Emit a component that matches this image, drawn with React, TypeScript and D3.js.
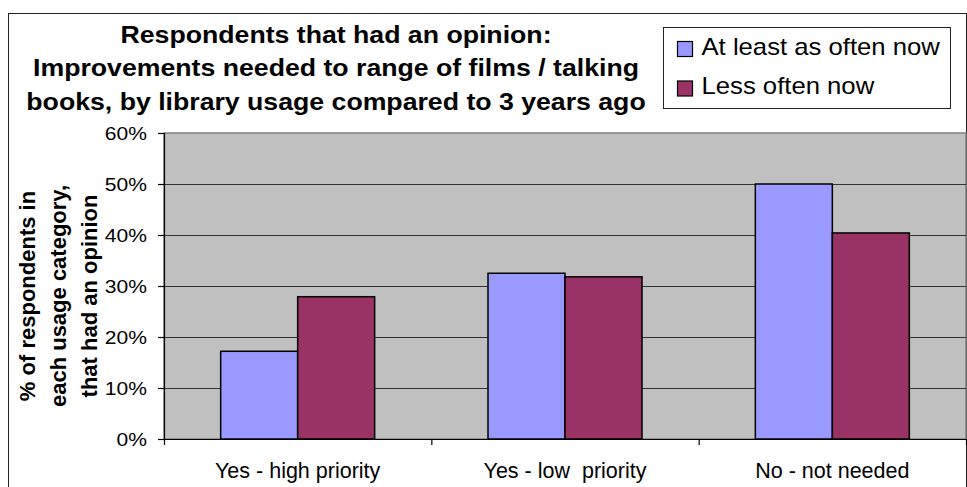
import React from "react";
import * as d3 from "d3";

const categories = ["Yes - high priority", "Yes - low  priority", "No - not needed"];
const seriesNames = ["At least as often now", "Less often now"];
const atLeastAsOften = [17.2, 32.5, 50.0];
const lessOften = [27.9, 31.8, 40.4];
const yTicks = [0, 10, 20, 30, 40, 50, 60];
const titleLines = [
  "Respondents that had an opinion:",
  "Improvements needed to range of films / talking",
  "books, by library usage compared to 3 years ago",
];
const yTitleLines = ["% of respondents in", "each usage category,", "that had an opinion"];
const colors = ["#9999FF", "#993366"];

const W = 967;
const H = 487;
const plot = { left: 164, right: 966, top: 133, bottom: 439 };
const FONT = "'Liberation Sans', Arial, sans-serif";

export default function App() {
  const x = d3.scaleBand<string>().domain(categories).range([plot.left, plot.right]).padding(0);
  const xs = d3
    .scaleBand<string>()
    .domain(seriesNames)
    .range([0, x.step()])
    .paddingInner(0)
    .paddingOuter(0.736);
  const y = d3.scaleLinear().domain([0, 60]).range([plot.bottom, plot.top]);
  const series = [atLeastAsOften, lessOften];

  return (
    <svg
      width={W}
      height={H}
      style={{ position: "absolute", left: 0, top: 0, background: "#fff" }}
      fontFamily={FONT}
    >
      {/* outer chart border */}
      <rect x={8.5} y={13.5} width={958} height={500} fill="#fff" stroke="#222" strokeWidth={1} />

      {/* title */}
      {titleLines.map((t, i) => (
        <text
          key={i}
          transform={`translate(336,${42.5 + i * 33.8}) scale(1.16,1)`}
          textAnchor="middle"
          fontWeight="bold"
          fontSize={23}
          fill="#000"
        >
          {t}
        </text>
      ))}

      {/* legend */}
      <rect x={663.5} y={27.5} width={287} height={81} fill="#fff" stroke="#222" strokeWidth={1} />
      {seriesNames.map((s, i) => (
        <g key={s}>
          <rect
            x={677.5}
            y={41.5 + i * 39.5}
            width={15}
            height={15}
            fill={colors[i]}
            stroke="#000"
            strokeWidth={1.2}
          />
          <text
            transform={`translate(701.5,${54.5 + i * 39.5}) scale(1.07,1)`}
            fontSize={24}
            fill="#000"
          >
            {s}
          </text>
        </g>
      ))}

      {/* plot area */}
      <rect
        x={plot.left}
        y={plot.top}
        width={plot.right - plot.left}
        height={plot.bottom - plot.top}
        fill="#C0C0C0"
        stroke="#808080"
        strokeWidth={1.5}
      />
      {yTicks.slice(1, -1).map((t) => (
        <line
          key={t}
          x1={plot.left}
          x2={plot.right}
          y1={Math.round(y(t)) + 0.5}
          y2={Math.round(y(t)) + 0.5}
          stroke="#333"
          strokeWidth={1.2}
        />
      ))}

      {/* bars */}
      {categories.map((c, ci) => (
        <g key={c} transform={`translate(${x(c)},0)`}>
          {seriesNames.map((s, si) => (
            <rect
              key={s}
              x={xs(s)}
              y={y(series[si][ci])}
              width={xs.bandwidth()}
              height={y(0) - y(series[si][ci])}
              fill={colors[si]}
              stroke="#000"
              strokeWidth={1.5}
            />
          ))}
        </g>
      ))}

      {/* y axis */}
      <line x1={plot.left + 0.5} x2={plot.left + 0.5} y1={plot.top} y2={plot.bottom} stroke="#000" strokeWidth={1.2} />
      {yTicks.map((t) => (
        <g key={t}>
          <line x1={158} x2={plot.left} y1={Math.round(y(t)) + 0.5} y2={Math.round(y(t)) + 0.5} stroke="#000" strokeWidth={1.2} />
          <text
            transform={`translate(147,${y(t) + 6.5}) scale(1.17,1)`}
            textAnchor="end"
            fontSize={18}
            fill="#000"
          >
            {t + "%"}
          </text>
        </g>
      ))}

      {/* x axis */}
      <line x1={plot.left} x2={plot.right} y1={plot.bottom + 0.5} y2={plot.bottom + 0.5} stroke="#000" strokeWidth={1.2} />
      {[...categories.map((c) => x(c) as number), plot.right].map((v, i) => (
        <line key={i} x1={v + 0.5} x2={v + 0.5} y1={plot.bottom} y2={plot.bottom + 6} stroke="#000" strokeWidth={1.2} />
      ))}
      {categories.map((c) => (
        <text
          key={c}
          x={(x(c) as number) + x.bandwidth() / 2}
          y={478}
          textAnchor="middle"
          fontSize={21.5}
          fill="#000"
          style={{ whiteSpace: "pre" }}
        >
          {c}
        </text>
      ))}

      {/* y axis title */}
      {yTitleLines.map((t, i) => (
        <text
          key={i}
          transform={`translate(${35 + i * 31},296) rotate(-90)`}
          textAnchor="middle"
          fontWeight="bold"
          fontSize={22}
          fill="#000"
        >
          {t}
        </text>
      ))}
    </svg>
  );
}
